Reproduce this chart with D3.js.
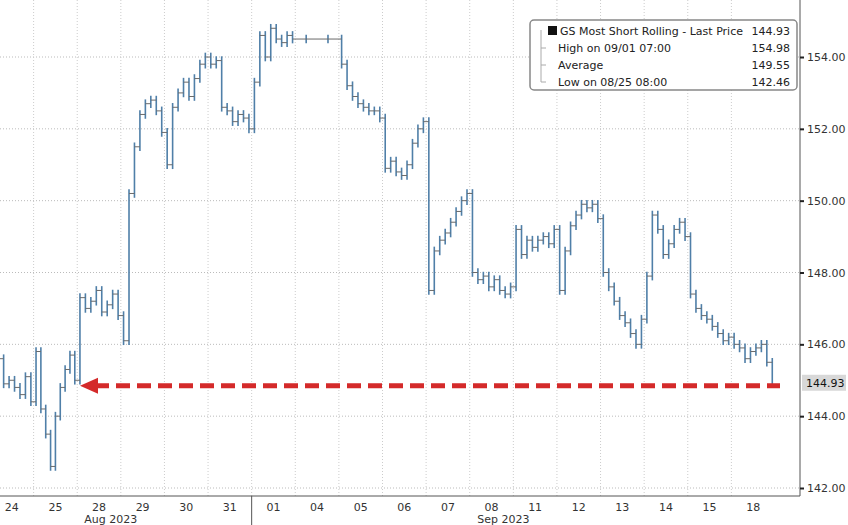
<!DOCTYPE html><html><head><meta charset="utf-8"><script src="https://cdn.jsdelivr.net/npm/d3@7"></script>
<style>body{margin:0;background:#fff}text{font-family:"DejaVu Sans",sans-serif}</style></head><body><svg id="c" width="848" height="525"></svg>
<script>
const days=["24","25","28","29","30","31","01","04","05","06","07","08","11","12","13","14","15","18"];
const prices=[
[145.2,145.6,144.9,145.0,144.8,144.6,145.1,144.4],
[145.8,144.2,143.5,142.6,144.0,144.8,145.3,145.7,145.0],
[147.3,147.0,147.2,147.5,146.9,147.1,147.4,146.8],
[146.1,150.2,151.5,152.4,152.7,152.8,152.5,151.9],
[151.0,152.6,153.0,153.3,152.9,153.4,153.8,154.0],
[153.8,153.9,152.6,152.5,152.2,152.4,152.3,152.0],
[153.3,154.6,154.0,154.8,154.5,154.4,154.6,154.5],
[154.5,154.5],
[153.8,153.2,152.9,152.7,152.6,152.5,152.5,152.3],
[150.9,151.1,150.8,150.7,151.0,151.6,152.0,152.2],
[147.5,148.6,148.9,149.1,149.4,149.7,150.0,150.2],
[148.0,147.8,147.9,147.6,147.8,147.5,147.4,147.6],
[149.2,148.5,148.9,148.7,148.9,149.0,148.8,149.2],
[147.5,148.6,149.3,149.6,149.9,149.8,149.9,149.5],
[148.0,147.6,147.2,146.8,146.6,146.3,146.0,146.7],
[147.9,149.6,149.2,148.5,148.8,149.2,149.4,149.0],
[147.4,147.0,146.8,146.7,146.5,146.3,146.1,146.2],
[146.0,145.9,145.6,145.8,145.9,146.0,145.5,144.93]];
const yTicks=[142,144,146,148,150,152,154];
const legendRows=[["GS Most Short Rolling - Last Price","144.93"],["High on 09/01 07:00","154.98"],["Average","149.55"],["Low on 08/25 08:00","142.46"]];
const lastPrice=144.93;

const svg=d3.select("#c");
const x=d3.scaleLinear().domain([0,18]).range([-10,775]);
const y=d3.scaleLinear().domain([142,154]).range([488,57]);
const R=800,B=496;
// grids
svg.append("g").selectAll("line").data(yTicks).join("line").attr("x1",0).attr("x2",R).attr("y1",d=>y(d)).attr("y2",d=>y(d)).attr("stroke","#bbb").attr("stroke-dasharray","1,2");
svg.append("g").selectAll("line").data(d3.range(1,18)).join("line").attr("x1",d=>x(d)).attr("x2",d=>x(d)).attr("y1",0).attr("y2",B).attr("stroke","#ccc").attr("stroke-dasharray","1,2");
// points
const pts=[];
prices.forEach((arr,i)=>arr.forEach((v,j)=>pts.push({x:x(i+(j+0.5)/arr.length),v})));
const g=svg.append("g");
pts.forEach((p,i)=>{const pv=i?pts[i-1].v:p.v;const hi=Math.max(pv,p.v)+0.12,lo=Math.min(pv,p.v)-0.12;
 g.append("line").attr("x1",p.x).attr("x2",p.x).attr("y1",y(hi)).attr("y2",y(lo)).attr("stroke","#4f7fa8").attr("stroke-width",1.6);
 if(i) g.append("line").attr("x1",pts[i-1].x).attr("x2",p.x).attr("y1",y(pv)).attr("y2",y(pv)).attr("stroke","#6a6a6a").attr("stroke-width",1);});
// axes
svg.append("line").attr("x1",0).attr("x2",R).attr("y1",B).attr("y2",B).attr("stroke","#555");
svg.append("line").attr("x1",R).attr("x2",R).attr("y1",0).attr("y2",B).attr("stroke","#555");
const ya=svg.append("g").attr("transform",`translate(${R},0)`).call(d3.axisRight(y).tickValues(yTicks).tickFormat(d3.format(".2f")).tickSize(4));
ya.select(".domain").remove();ya.selectAll("text").attr("font-size",11).attr("fill","#333").attr("x",7);
ya.selectAll("line").attr("stroke","#222").attr("stroke-width",2);
svg.append("g").selectAll("text").data(days).join("text").attr("x",(d,i)=>x(i+0.5)).attr("y",511).attr("text-anchor","middle").attr("font-size",11).attr("fill","#333").text(d=>d);
svg.append("line").attr("x1",x(6)).attr("x2",x(6)).attr("y1",B).attr("y2",525).attr("stroke","#555");
svg.append("text").attr("x",x(3)-10).attr("y",523).attr("text-anchor","middle").attr("font-size",11).attr("fill","#333").text("Aug 2023");
svg.append("text").attr("x",x(12)-10).attr("y",523).attr("text-anchor","middle").attr("font-size",11).attr("fill","#333").text("Sep 2023");
// arrow
const ay=y(lastPrice)+3;
svg.append("line").attr("x1",95).attr("x2",780).attr("y1",ay).attr("y2",ay).attr("stroke","#d42a2a").attr("stroke-width",5).attr("stroke-dasharray","14,7");
svg.append("path").attr("d",`M80,${ay}L98,${ay-8}L98,${ay+8}Z`).attr("fill","#d42a2a");
svg.append("rect").attr("x",R+2).attr("y",y(lastPrice)-8).attr("width",44).attr("height",16).attr("fill","#d8d8d8");
svg.append("text").attr("x",R+6).attr("y",y(lastPrice)+4).attr("font-size",11).attr("fill","#111").text(lastPrice.toFixed(2));
// legend
const lg=svg.append("g").attr("transform","translate(530,20)");
lg.append("rect").attr("width",267).attr("height",70).attr("rx",4).attr("fill","#fff").attr("stroke","#888").attr("stroke-width",1.5);
lg.append("rect").attr("x",18).attr("y",6).attr("width",9).attr("height",9).attr("fill","#111");
lg.append("path").attr("d","M11,10V62M11,28H16M11,45H16M11,62H16").attr("stroke","#aaa").attr("fill","none");
legendRows.forEach((r,i)=>{lg.append("text").attr("x",i?28:30).attr("y",15+i*17).attr("font-size",11).attr("fill","#222").text(r[0]);
 lg.append("text").attr("x",260).attr("y",15+i*17).attr("text-anchor","end").attr("font-size",11).attr("fill","#222").text(r[1]);});
</script></body></html>
